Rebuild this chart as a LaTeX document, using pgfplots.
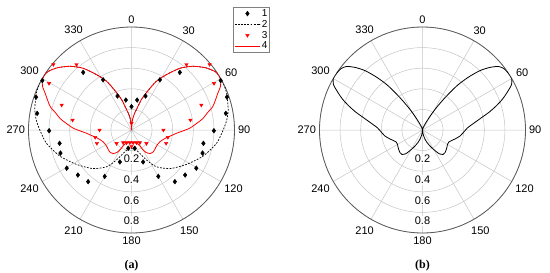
\documentclass[border=0pt]{standalone}
\usepackage{fontspec}
\setmainfont{Liberation Sans}
\newfontfamily\capfont{Liberation Serif}
\usepackage{pgfplots}
\usepackage{pgfplotstable}
\pgfplotsset{compat=1.18}
\usepgfplotslibrary{polar}
\definecolor{gridgray}{HTML}{C4C4C4}
\definecolor{axisgray}{HTML}{5A5A5A}

% angle (deg, 0 at top, clockwise) and normalised radius
\pgfplotstableread{
a r
0 0.227
10.7 0.296
22.4 0.357
29.5 0.56
40 0.73
61 0.99
71 0.98
80 0.93
90.5 0.80
100.5 0.71
108 0.725
120.5 0.73
130 0.68
140 0.655
150 0.52
160 0.33
170 0.18
190 0.18
200 0.33
210 0.52
220 0.655
230 0.68
239.5 0.73
252 0.725
259.5 0.71
269.5 0.80
280 0.93
289 0.98
299 0.99
320 0.73
330.5 0.56
337.6 0.357
349.3 0.296
}\seriesone

\pgfplotstableread{
a r
0 0
3 0.06
7 0.12
11 0.17
14 0.21
18 0.31
23 0.42
27 0.53
32 0.63
38 0.76
44 0.86
50 0.94
55 0.99
58 1.00
63 1.00
69 0.99
78 0.96
84 0.93
90 0.89
99 0.835
110 0.74
122 0.63
135 0.53
146 0.43
153 0.33
163 0.22
172 0.185
180 0.18
188 0.185
197 0.22
207 0.33
214 0.43
225 0.53
238 0.63
250 0.74
261 0.835
270 0.89
276 0.93
282 0.96
291 0.99
297 1.00
302 1.00
305 0.99
310 0.94
316 0.86
322 0.76
328 0.63
333 0.53
337 0.42
342 0.31
346 0.21
349 0.17
353 0.12
357 0.06
360 0
}\seriestwo

\pgfplotstableread{
a r
0 0.065
40 0.83
50 0.99
60.5 0.92
70.3 0.72
80.4 0.58
90 0.31
101.3 0.36
111 0.36
132 0.195
146.7 0.147
158.5 0.132
172.5 0.124
180 0.16
187.5 0.124
201.5 0.132
213.3 0.147
228 0.195
249 0.36
258.7 0.36
270 0.31
279.6 0.58
289.7 0.72
299.5 0.92
310 0.99
320 0.83
}\seriesthree

\pgfplotstableread{
a r
0 0
3 0.06
7 0.12
11 0.17
14 0.21
18 0.31
23 0.42
27 0.53
32 0.63
38 0.76
44 0.86
50 0.94
55 0.99
58 1.00
61 0.99
64 0.96
67 0.91
70 0.87
74 0.82
77 0.76
81 0.70
84 0.64
88 0.57
91 0.50
94 0.44
98 0.39
102 0.35
107 0.32
112 0.30
118 0.29
126 0.29
135 0.30
142 0.29
147 0.26
150 0.22
152 0.18
155 0.15
162 0.132
172 0.124
180 0.123
188 0.124
198 0.132
205 0.15
208 0.18
210 0.22
213 0.26
218 0.29
225 0.30
234 0.29
242 0.29
248 0.30
253 0.32
258 0.35
262 0.39
266 0.44
269 0.50
272 0.57
276 0.64
279 0.70
283 0.76
286 0.82
290 0.87
293 0.91
296 0.96
299 0.99
302 1.00
305 0.99
310 0.94
316 0.86
322 0.76
328 0.63
333 0.53
337 0.42
342 0.31
346 0.21
349 0.17
353 0.12
357 0.06
360 0
}\seriesfour

\pgfplotstableread{
a r
0 0
10 0.01
15 0.02
20 0.04
25 0.08
29 0.16
32 0.26
35 0.39
38 0.55
41 0.68
44 0.80
47 0.89
50 0.96
53 0.99
57 1.00
60 1.00
63 0.97
66 0.90
69 0.83
72 0.75
75 0.67
78 0.59
82 0.51
87 0.44
93 0.40
99 0.37
105 0.33
110 0.30
115 0.28
120 0.28
125 0.29
130 0.30
135 0.31
140 0.31
145 0.28
150 0.22
155 0.17
160 0.13
165 0.09
170 0.05
175 0.02
180 0
185 0.02
190 0.05
195 0.09
200 0.13
205 0.17
210 0.22
215 0.28
220 0.31
225 0.31
230 0.30
235 0.29
240 0.28
245 0.28
250 0.30
255 0.33
261 0.37
267 0.40
273 0.44
278 0.51
282 0.59
285 0.67
288 0.75
291 0.83
294 0.90
297 0.97
300 1.00
303 1.00
307 0.99
310 0.96
313 0.89
316 0.80
319 0.68
322 0.55
325 0.39
328 0.26
331 0.16
335 0.08
340 0.04
345 0.02
350 0.01
360 0
}\patternb

\pgfplotsset{
  mypolar/.style={
    width=206pt, height=206pt, scale only axis,
    xmin=0, xmax=360, ymin=0, ymax=1,
    xtick={0,30,...,330},
    xticklabels={90,60,30,0,330,300,270,240,210,180,150,120},
    ytick={0.2,0.4,0.6,0.8,1},
    yticklabels={},
    grid=major,
    major grid style={gridgray, line width=0.5pt},
    axis line style={axisgray, line width=0.8pt},
    y axis line style={draw=none},
    tick style={draw=none},
    xticklabel style={font=\fontsize{11}{13}\selectfont},
    x filter/.expression={90-x},
    legend image code/.code={\draw[mark repeat=2,mark phase=2,#1]
      plot coordinates {(0cm,0cm) (0.45cm,0cm) (0.9cm,0cm)};},
  },
}
\tikzset{
  rlabel/.style={fill=white, inner sep=1pt, anchor=north, yshift=-3.5pt,
    font=\fontsize{11}{13}\selectfont},
}

\begin{document}
\begin{tikzpicture}
\path[use as bounding box] (0pt,0pt) rectangle (550pt,-273pt);

% (a)
\begin{polaraxis}[mypolar, at={(131.5pt,-130pt)}, anchor=center,
    legend style={at={(0.993,1.097)}, anchor=north west, draw=gray,
      font=\fontsize{10}{11}\selectfont, inner sep=1pt, row sep=0pt,
      nodes={inner sep=1.2pt}},
    legend cell align=left]
\addplot[only marks, mark=diamond*, mark size=2.4pt, black]
  table[x=a, y=r] {\seriesone};
\addplot[black, line width=0.7pt, dash pattern=on 1.8pt off 1.4pt, smooth, tension=0.4]
  table[x=a, y=r] {\seriestwo};
\addplot[only marks, mark=triangle*, mark size=2pt, red, mark options={rotate=180}]
  table[x=a, y=r] {\seriesthree};
\addplot[red, line width=0.8pt, smooth, tension=0.4]
  table[x=a, y=r] {\seriesfour};
\legend{1,2,3,4}
\node[rlabel] at (axis cs:270,0.2) {0.2};
\node[rlabel] at (axis cs:270,0.4) {0.4};
\node[rlabel] at (axis cs:270,0.6) {0.6};
\node[rlabel] at (axis cs:270,0.8) {0.8};
\end{polaraxis}

% (b)
\begin{polaraxis}[mypolar, at={(422.5pt,-130pt)}, anchor=center]
\addplot[black, line width=0.8pt, smooth, tension=0.4]
  table[x=a, y=r] {\patternb};
\node[rlabel] at (axis cs:270,0.2) {0.2};
\node[rlabel] at (axis cs:270,0.4) {0.4};
\node[rlabel] at (axis cs:270,0.6) {0.6};
\node[rlabel] at (axis cs:270,0.8) {0.8};
\end{polaraxis}

\node[font=\capfont\bfseries\fontsize{12}{14}\selectfont] at (131.5pt,-266pt) {(a)};
\node[font=\capfont\bfseries\fontsize{12}{14}\selectfont] at (422.5pt,-266pt) {(b)};
\end{tikzpicture}
\end{document}
